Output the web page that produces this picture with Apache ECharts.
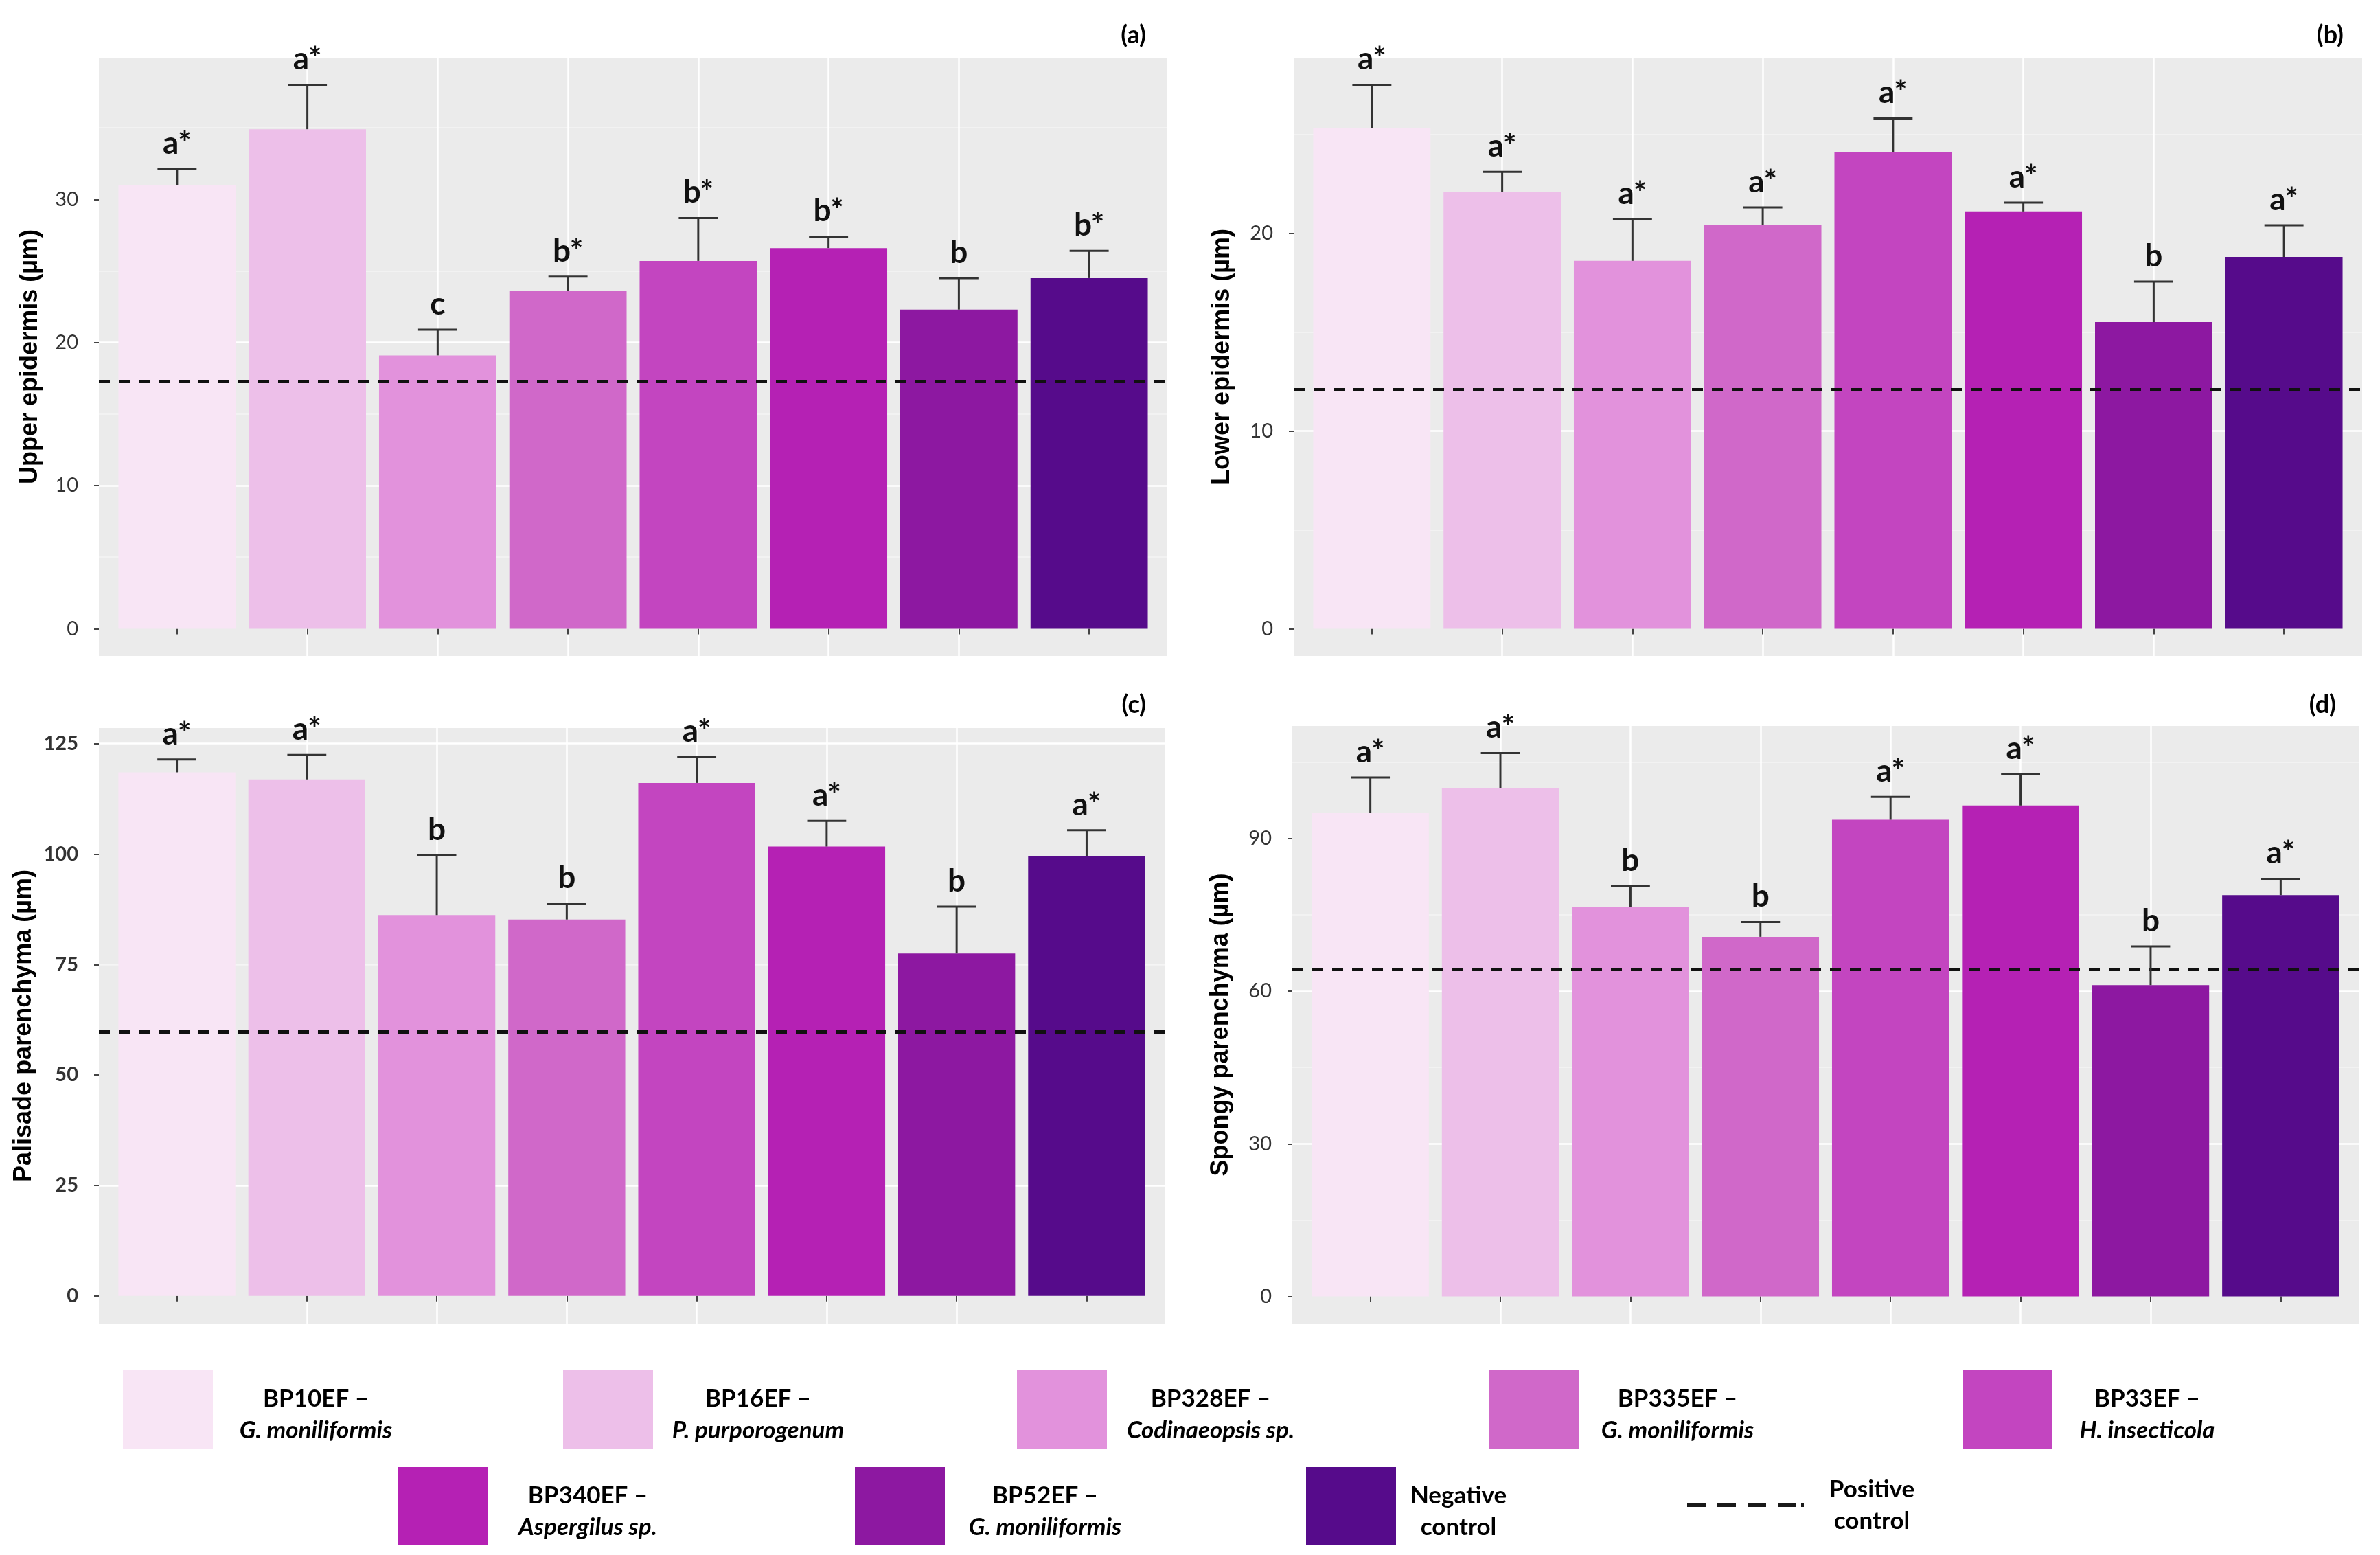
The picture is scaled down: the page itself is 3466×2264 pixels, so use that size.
<!DOCTYPE html>
<html>
<head>
<meta charset="utf-8">
<title>Leaf tissue thickness</title>
<script src="https://cdn.jsdelivr.net/npm/echarts@6.0.0/dist/echarts.min.js"></script>
<style>
html, body { margin: 0; padding: 0; background: #fff; }
#main { width: 3466px; height: 2264px; }
</style>
</head>
<body>
<div id="main"></div>
<script>
// treatments, in plotting order
var strains = ['BP10EF', 'BP16EF', 'BP328EF', 'BP335EF', 'BP33EF', 'BP340EF', 'BP52EF', 'Negative control'];
var species = ['G. moniliformis', 'P. purporogenum', 'Codinaeopsis sp.', 'G. moniliformis', 'H. insecticola', 'Aspergilus sp.', 'G. moniliformis', ''];
var barColors = ['#f8e5f5', '#edbfe9', '#e292dc', '#d068c9', '#c345c0', '#b521b4', '#8d18a1', '#560b8b'];

// (a) upper epidermis
var upperMean = [31.0, 34.9, 19.1, 23.6, 25.7, 26.6, 22.3, 24.5];
var upperSE = [1.1, 3.1, 1.8, 1.0, 3.0, 0.8, 2.2, 1.9];
var upperLetters = ['a*', 'a*', 'c', 'b*', 'b*', 'b*', 'b', 'b*'];
var upperPositive = 17.3;
var upperTicks = [0, 10, 20, 30];

// (b) lower epidermis
var lowerMean = [25.3, 22.1, 18.6, 20.4, 24.1, 21.1, 15.5, 18.8];
var lowerSE = [2.2, 1.0, 2.1, 0.9, 1.7, 0.45, 2.05, 1.6];
var lowerLetters = ['a*', 'a*', 'a*', 'a*', 'a*', 'a*', 'b', 'a*'];
var lowerPositive = 12.1;
var lowerTicks = [0, 10, 20];

// (c) palisade parenchyma
var palisadeMean = [118.5, 116.9, 86.2, 85.2, 116.1, 101.7, 77.5, 99.5];
var palisadeSE = [2.9, 5.5, 13.6, 3.6, 5.8, 5.8, 10.6, 5.9];
var palisadeLetters = ['a*', 'a*', 'b', 'b', 'a*', 'a*', 'b', 'a*'];
var palisadePositive = 59.8;
var palisadeTicks = [0, 25, 50, 75, 100, 125];

// (d) spongy parenchyma
var spongyMean = [95.0, 99.9, 76.6, 70.7, 93.7, 96.5, 61.2, 78.9];
var spongySE = [7.0, 6.9, 4.0, 2.9, 4.5, 6.2, 7.6, 3.2];
var spongyLetters = ['a*', 'a*', 'b', 'b', 'a*', 'a*', 'b', 'a*'];
var spongyPositive = 64.3;
var spongyTicks = [0, 30, 60, 90];

var panels = [
	{ mean: upperMean, se: upperSE, letters: upperLetters, positive: upperPositive, ticks: upperTicks, title: 'Upper epidermis (µm)', tag: '(a)' },
	{ mean: lowerMean, se: lowerSE, letters: lowerLetters, positive: lowerPositive, ticks: lowerTicks, title: 'Lower epidermis (µm)', tag: '(b)' },
	{ mean: palisadeMean, se: palisadeSE, letters: palisadeLetters, positive: palisadePositive, ticks: palisadeTicks, title: 'Palisade parenchyma (µm)', tag: '(c)' },
	{ mean: spongyMean, se: spongySE, letters: spongyLetters, positive: spongyPositive, ticks: spongyTicks, title: 'Spongy parenchyma (µm)', tag: '(d)' }
];

// bar positions on the x scale (1..n, ggplot style discrete scale)
var xPos = strains.map(function (s, j) { return j + 1; });

// layout of the four panels (px)
var boxes = [
	{ left: 144, top: 84, width: 1556, height: 871, nameGap: 82, tagRight: 1792, tagTop: 28, dash: 4, boldTicks: false },
	{ left: 1884, top: 84, width: 1556, height: 871, nameGap: 86, tagRight: 48, tagTop: 28, dash: 4, boldTicks: false },
	{ left: 144, top: 1060, width: 1552, height: 867, nameGap: 91, tagRight: 1792, tagTop: 1003, dash: 5, boldTicks: true },
	{ left: 1882, top: 1057, width: 1553, height: 870, nameGap: 86, tagRight: 59, tagTop: 1003, dash: 5, boldTicks: false }
];

// legend slots: icon position and text centre offset from icon's right edge
var legendSlots = [
	{ left: 179, top: 1995, off: 150, w: 250, padTop: 16 },
	{ left: 820, top: 1995, off: 153, w: 250, padTop: 16 },
	{ left: 1481, top: 1995, off: 151, w: 250, padTop: 16 },
	{ left: 2169, top: 1995, off: 143, w: 250, padTop: 16 },
	{ left: 2858, top: 1995, off: 138, w: 250, padTop: 16 },
	{ left: 580, top: 2136, off: 145, w: 250, padTop: 16 },
	{ left: 1245, top: 2136, off: 146, w: 250, padTop: 16 },
	{ left: 1902, top: 2136, off: 91, w: 150, padTop: 16 }
];
var positiveSlot = { left: 2457, top: 2151, off: 99, w: 150, padTop: 0 };

var chart = echarts.init(document.getElementById('main'));

function errorRenderer(letters) {
	return function (params, api) {
		var xv = api.value(0);
		var base = api.coord([xv, api.value(1)]);
		var top = api.coord([xv, api.value(2)]);
		var half = api.size([1, 0])[0] * 0.15;
		var st = { stroke: '#333', lineWidth: 3 };
		return {
			type: 'group',
			children: [
				{ type: 'line', shape: { x1: base[0], y1: base[1], x2: base[0], y2: top[1] }, style: st },
				{ type: 'line', shape: { x1: base[0] - half, y1: top[1], x2: base[0] + half, y2: top[1] }, style: st },
				{
					type: 'text',
					style: {
						text: letters[params.dataIndex], x: base[0], y: top[1] - 14,
						align: 'center', verticalAlign: 'bottom',
						fontFamily: 'Lato', fontWeight: 'bold', fontSize: 46, fill: '#111'
					}
				}
			]
		};
	};
}

function legendName(name) {
	var i = strains.indexOf(name);
	if (i >= 0 && species[i]) {
		return '{c|' + name + ' –}\n{s|' + species[i] + '}';
	}
	var w = name.split(' ');
	return '{c|' + w[0] + '}\n{c|' + w[1] + '}';
}

function makeLegend(name, slot, extra) {
	var lg = {
		data: [name],
		left: slot.left,
		top: slot.top,
		padding: 0,
		selectedMode: false,
		itemWidth: 131,
		itemHeight: 114,
		icon: 'rect',
		formatter: legendName,
		textStyle: {
			padding: [slot.padTop, 0, 0, slot.off - 5 - slot.w / 2],
			rich: {
				c: { width: slot.w, align: 'center', fontFamily: 'Lato', fontWeight: 'bold', fontSize: 35, lineHeight: 46, color: '#000' },
				s: { width: slot.w, align: 'center', fontFamily: 'Lato', fontWeight: 'bold', fontStyle: 'italic', fontSize: 35, lineHeight: 46, color: '#000' }
			}
		}
	};
	for (var key in extra) lg[key] = extra[key];
	return lg;
}

var grids = [], xAxes = [], yAxes = [], series = [], titles = [];

panels.forEach(function (p, k) {
	var b = boxes[k];
	var topVal = Math.max.apply(null, p.mean.map(function (m, j) { return m + p.se[j]; }));

	grids.push({
		left: b.left, top: b.top, width: b.width, height: b.height,
		show: true, backgroundColor: '#ebebeb', borderWidth: 0,
		containLabel: false, outerBoundsMode: 'none'
	});

	xAxes.push({
		gridIndex: k, type: 'value',
		min: 0.4, max: strains.length + 0.6, splitNumber: strains.length,
		axisLine: { show: false },
		axisTick: { show: true, customValues: xPos, length: 8, lineStyle: { color: '#444', width: 2 } },
		axisLabel: { show: false },
		splitLine: { show: true, showMinLine: false, showMaxLine: false, lineStyle: { color: '#ffffff', width: 2.5 } }
	});

	var y = {
		gridIndex: k, type: 'value',
		min: -0.05 * topVal, max: 1.05 * topVal,
		splitNumber: k === 1 ? 3 : 4,
		name: p.title, nameLocation: 'middle', nameGap: b.nameGap, nameMoveOverlap: false,
		nameTextStyle: { fontFamily: 'Liberation Sans', fontWeight: 'bold', fontSize: 36, color: '#000' },
		axisLine: { show: false },
		axisTick: { show: true, length: 7, customValues: p.ticks, lineStyle: { color: '#444', width: 2 } },
		axisLabel: { customValues: p.ticks, margin: 30, fontFamily: 'Lato', fontWeight: b.boldTicks ? 'bold' : 'normal', fontSize: 29, color: '#333' },
		splitLine: { show: true, showMinLine: false, showMaxLine: false, lineStyle: { color: '#ffffff', width: 2.5 } },
		minorTick: { show: false, splitNumber: 2 },
		minorSplitLine: { show: true, lineStyle: { color: '#f5f5f5', width: 1.5 } }
	};
	if (k === 2) {
		// 25 is not a "nice" step, so step by 6.25 from a min that is a multiple of it
		y.min = -6.25;
		y.interval = 6.25;
		y.splitLine = { show: true, lineStyle: { color: ['rgba(0,0,0,0)', '#ffffff', 'rgba(0,0,0,0)', '#f5f5f5'], width: 2.5 } };
		y.minorSplitLine = { show: false };
	}
	yAxes.push(y);

	series.push({
		name: p.title, type: 'bar', xAxisIndex: k, yAxisIndex: k,
		stack: 'panel' + k, barWidth: '90%',
		data: p.mean.map(function (m, j) {
			return { value: [xPos[j], m], itemStyle: { color: barColors[j] } };
		})
	});

	series.push({
		type: 'custom', xAxisIndex: k, yAxisIndex: k, z: 5, silent: true,
		renderItem: errorRenderer(p.letters),
		encode: { x: 0, y: 1 },
		data: p.mean.map(function (m, j) { return [xPos[j], m, m + p.se[j]]; }),
		markLine: {
			silent: true, symbol: ['none', 'none'], label: { show: false },
			lineStyle: { color: '#111', type: [16, 13], width: b.dash },
			data: [{ yAxis: p.positive }]
		}
	});

	titles.push({
		text: p.tag, right: b.tagRight, top: b.tagTop,
		textStyle: { fontFamily: 'Lato', fontWeight: 'bold', fontSize: 36, color: '#000' }
	});
});

// legend-only entries (empty, stacked with panel (a) bars so they take no room)
strains.forEach(function (s, i) {
	series.push({
		name: s, type: 'bar', xAxisIndex: 0, yAxisIndex: 0, stack: 'panel0', barWidth: '90%',
		itemStyle: { color: barColors[i] }, data: []
	});
});
series.push({
	name: 'Positive control', type: 'bar', xAxisIndex: 0, yAxisIndex: 0, stack: 'panel0', barWidth: '90%',
	itemStyle: { color: '#1a1a1a' }, data: []
});

var legends = strains.map(function (s, i) { return makeLegend(s, legendSlots[i], {}); });
legends.push(makeLegend('Positive control', positiveSlot, {
	itemWidth: 170, itemHeight: 5,
	icon: 'path://M0,0H27V5H0Z M44,0H71V5H44Z M88,0H115V5H88Z M132,0H159V5H132Z M166,0H170V5H166Z'
}));

chart.setOption({
	backgroundColor: '#ffffff',
	animation: false,
	title: titles,
	legend: legends,
	grid: grids,
	xAxis: xAxes,
	yAxis: yAxes,
	series: series
});
</script>
</body>
</html>
